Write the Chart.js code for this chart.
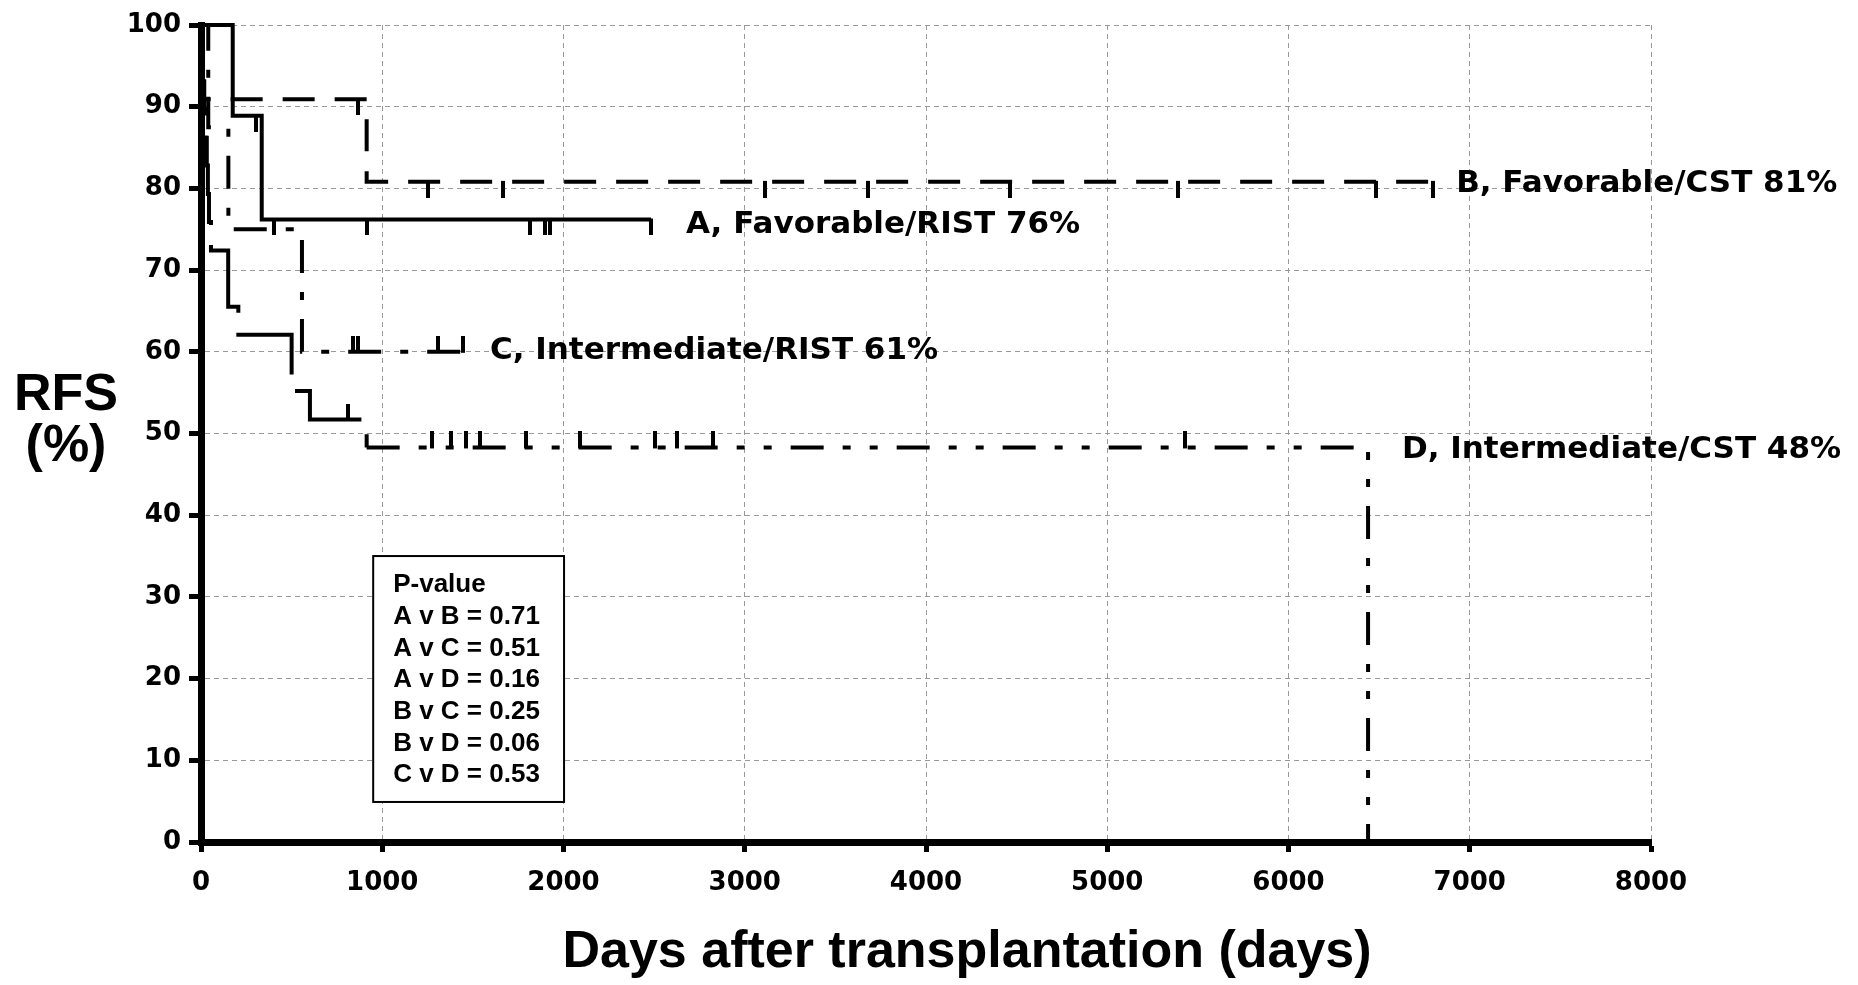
<!DOCTYPE html>
<html>
<head>
<meta charset="utf-8">
<script src="https://cdn.jsdelivr.net/npm/chart.js@4.4.1/dist/chart.umd.min.js"></script>
<style>
html,body{margin:0;padding:0;background:#fff;}
#wrap{width:1858px;height:985px;position:relative;}
</style>
</head>
<body>
<div id="wrap"><canvas id="c" width="1858" height="985"></canvas></div>
<script>
// ---- data ----
const xTickValues = [0, 1000, 2000, 3000, 4000, 5000, 6000, 7000, 8000];
const yTickValues = [0, 10, 20, 30, 40, 50, 60, 70, 80, 90, 100];

// A, Favorable/RIST (solid)
const aTimes  = [0, 175, 335, 2483];
const aSurv   = [100, 88.9, 76.2, 76.2];
const aCensor = [303, 400, 914, 1814, 1900, 1928, 2483];

// B, Favorable/CST (dashed)
const bTimes  = [0, 6, 914, 6795];
const bSurv   = [100, 90.9, 80.8, 80.8];
const bCensor = [867, 1250, 1668, 3110, 3680, 4465, 5390, 6484, 6795];

// C, Intermediate/RIST (dash-dot)
const cTimes  = [0, 40, 151, 557, 1445];
const cSurv   = [100, 87.5, 75.0, 60.0, 60.0];
const cCensor = [840, 868, 1307, 1445];

// D, Intermediate/CST (dash-dot-dot)
const dTimes  = [0, 5, 10, 18, 25, 32, 38, 44, 55, 150, 206, 500, 601, 914, 6439];
const dSurv   = [100, 96.6, 93.1, 89.7, 86.2, 82.8, 79.3, 75.9, 72.4, 65.5, 62.1, 55.2, 51.7, 48.3, 0];
const dCensor = [812, 1275, 1380, 1460, 1540, 1795, 2090, 2505, 2627, 2826, 5430];

const curveLabels = ["A, Favorable/RIST 76%", "B, Favorable/CST 81%", "C, Intermediate/RIST 61%", "D, Intermediate/CST 48%"];
const pValueLines = ["P-value", "A v B = 0.71", "A v C = 0.51", "A v D = 0.16", "B v C = 0.25", "B v D = 0.06", "C v D = 0.53"];
const xTitle = "Days after transplantation (days)";
const yTitleLines = ["RFS", "(%)"];

// ---- presentation settings ----
const labelAnchors = [ {x: 2676, y: 75.5}, {x: 6925, y: 80.6}, {x: 1594, y: 60.1}, {x: 6626, y: 48.0} ];
const pBox = {x1: 950, x2: 2003, y1: 35.0, y2: 4.9};
const TICK_FONT = "'DejaVu Sans', sans-serif";
const ARIAL = "'Liberation Sans', Arial, sans-serif";
const D_EARLY_END = 914;   // early D steps drawn with long dashes, as in the reference

function pts(times, surv) { return times.map((t, i) => ({x: t, y: surv[i]})); }
function levelAt(times, surv, t) {
  let v = surv[0];
  for (let i = 0; i < times.length; i++) { if (times[i] <= t) v = surv[i]; }
  return v;
}
function censorPts(times, surv, cens) { return cens.map(t => ({x: t, y: levelAt(times, surv, t)})); }
function tickImg(dir) {
  const L = 16, w = 4;
  const cv = document.createElement('canvas');
  cv.width = w; cv.height = 2 * L;
  const g = cv.getContext('2d');
  g.fillStyle = '#000';
  if (dir === 'down') g.fillRect(0, L - 1, w, L + 1); else g.fillRect(0, 0, w, L + 1);
  return cv;
}
const downTick = tickImg('down');
const upTick = tickImg('up');

function lineDs(data, dash, segment) {
  const ds = { type: 'line', data: data, borderColor: '#000', borderWidth: 4, borderDash: dash,
    borderCapStyle: 'butt', borderJoinStyle: 'miter', stepped: 'before', pointRadius: 0,
    fill: false, tension: 0, clip: 6 };
  if (segment) ds.segment = segment;
  return ds;
}
function censorDs(data, img) {
  return { type: 'scatter', data: data, pointStyle: img, pointRadius: 8, showLine: false, clip: false,
    borderColor: '#000', backgroundColor: '#000' };
}

const overlay = {
  id: 'overlay',
  afterDraw(chart) {
    const ctx = chart.ctx, xs = chart.scales.x, ys = chart.scales.y, ca = chart.chartArea;
    ctx.save();
    ctx.fillStyle = '#000';
    // curve labels
    ctx.font = "bold 31px " + TICK_FONT;
    ctx.textAlign = 'left'; ctx.textBaseline = 'middle';
    curveLabels.forEach((t, i) => {
      ctx.fillText(t, xs.getPixelForValue(labelAnchors[i].x), ys.getPixelForValue(labelAnchors[i].y));
    });
    // p-value box
    const bx1 = xs.getPixelForValue(pBox.x1), bx2 = xs.getPixelForValue(pBox.x2);
    const by1 = ys.getPixelForValue(pBox.y1), by2 = ys.getPixelForValue(pBox.y2);
    ctx.fillStyle = '#fff';
    ctx.fillRect(bx1, by1, bx2 - bx1, by2 - by1);
    ctx.strokeStyle = '#000'; ctx.lineWidth = 2; ctx.setLineDash([]);
    ctx.strokeRect(bx1, by1, bx2 - bx1, by2 - by1);
    ctx.fillStyle = '#000';
    ctx.font = "bold 26px " + ARIAL;
    pValueLines.forEach((t, i) => { ctx.fillText(t, bx1 + 20, by1 + 29 + i * 31.7); });
    // axis titles
    ctx.font = "bold 52px " + ARIAL;
    ctx.textAlign = 'center';
    ctx.fillText(xTitle, (ca.left + ca.right) / 2 + 41, 953);
    ctx.fillText(yTitleLines[0], 66, 396);
    ctx.fillText(yTitleLines[1], 66, 447);
    ctx.restore();
  }
};

Chart.defaults.font.family = TICK_FONT;
Chart.defaults.color = '#000';

new Chart(document.getElementById('c'), {
  data: {
    datasets: [
      lineDs(pts(aTimes, aSurv), []),
      lineDs(pts(bTimes, bSurv), [32, 20]),
      lineDs(pts(cTimes, cSurv), [33, 19, 8, 19]),
      lineDs(pts(dTimes, dSurv), [33, 19, 8, 19, 8, 19],
        { borderDash: c => (c.p1.parsed.x <= D_EARLY_END ? [95, 20] : undefined) }),
      censorDs(censorPts(aTimes, aSurv, aCensor), downTick),
      censorDs(censorPts(bTimes, bSurv, bCensor), downTick),
      censorDs(censorPts(cTimes, cSurv, cCensor), upTick),
      censorDs(censorPts(dTimes, dSurv, dCensor), upTick)
    ]
  },
  options: {
    responsive: false, animation: false, devicePixelRatio: 1,
    layout: { padding: { top: 25, right: 207, left: 0, bottom: 0 } },
    plugins: { legend: { display: false }, tooltip: { enabled: false } },
    events: [],
    scales: {
      x: {
        type: 'linear', min: 0, max: 8000,
        afterBuildTicks: s => { s.ticks = xTickValues.map(v => ({value: v})); },
        afterFit: s => { s.height = 143; },
        ticks: { font: { size: 26, weight: 'bold', family: TICK_FONT }, color: '#000', padding: 16, maxRotation: 0, autoSkip: false,
                 callback: v => String(v) },
        grid: { color: '#9a9a9a', lineWidth: 1, tickColor: '#000', tickWidth: 5, tickLength: 10, drawTicks: true },
        border: { display: true, color: '#000', width: 7, dash: [5, 4] }
      },
      y: {
        type: 'linear', min: 0, max: 100,
        afterBuildTicks: s => { s.ticks = yTickValues.map(v => ({value: v})); },
        afterFit: s => { s.width = 201; },
        ticks: { font: { size: 26, weight: 'bold', family: TICK_FONT }, color: '#000', padding: 8, autoSkip: false,
                 callback: v => String(v) },
        grid: { color: '#9a9a9a', lineWidth: 1, tickColor: '#000', tickWidth: 5, tickLength: 12, drawTicks: true },
        border: { display: true, color: '#000', width: 7, dash: [5, 4] }
      }
    }
  },
  plugins: [overlay]
});
</script>
</body>
</html>
